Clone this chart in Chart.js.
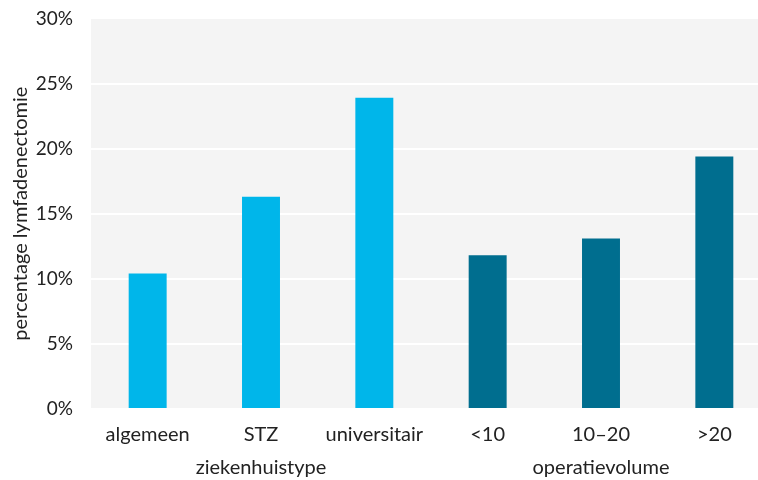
<!DOCTYPE html>
<html>
<head>
<meta charset="utf-8">
<script src="https://cdn.jsdelivr.net/npm/chart.js@4.4.1/dist/chart.umd.min.js"></script>
<style>
    html, body { margin: 0; padding: 0; background: #fff; overflow: hidden; }
    #wrap { width: 758px; height: 480px; overflow: hidden; }
    #lymfChart { display: block; margin-top: -11px; }
</style>
</head>
<body>
<div id="wrap"><canvas id="lymfChart" width="771" height="491"></canvas></div>
<script>
// Data
const categories = ['algemeen', 'STZ', 'universitair', '<10', '10–20', '>20'];
const values = [10.4, 16.3, 23.9, 11.8, 13.1, 19.4];
const groupOf = [0, 0, 0, 1, 1, 1];
const groupNames = ['ziekenhuistype', 'operatievolume'];
const groupColors = ['#00B6EA', '#006E8F'];
const yTicks = [0, 5, 10, 15, 20, 25, 30];

const fontFamily = 'Lato, "Open Sans", sans-serif';
const textColor = '#222';

// Grey plot background
const plotBackground = {
    id: 'plotBackground',
    beforeDraw(chart) {
        const { ctx, chartArea } = chart;
        ctx.save();
        ctx.fillStyle = '#F4F4F4';
        ctx.fillRect(chartArea.left, chartArea.top, chartArea.right - chartArea.left, chartArea.bottom - chartArea.top);
        ctx.restore();
    }
};

// Group labels under the category labels
const groupLabels = {
    id: 'groupLabels',
    afterDraw(chart) {
        const { ctx, scales } = chart;
        const x = scales.x;
        ctx.save();
        ctx.font = '20px ' + fontFamily;
        ctx.fillStyle = textColor;
        ctx.textAlign = 'center';
        ctx.textBaseline = 'middle';
        groupNames.forEach((name, g) => {
            const idx = groupOf.map((v, i) => v === g ? i : -1).filter(i => i >= 0);
            const mid = (x.getPixelForValue(idx[0]) + x.getPixelForValue(idx[idx.length - 1])) / 2;
            ctx.fillText(name, mid, chart.chartArea.bottom + 59);
        });
        ctx.restore();
    }
};

new Chart(document.getElementById('lymfChart'), {
    type: 'bar',
    data: {
        labels: categories,
        datasets: [{
            data: values,
            backgroundColor: groupOf.map(g => groupColors[g]),
            borderWidth: 0,
            barPercentage: 0.335,
            categoryPercentage: 1
        }]
    },
    options: {
        responsive: false,
        animation: false,
        layout: { padding: { top: 8, right: 0, bottom: 0, left: 0 } },
        plugins: {
            legend: { display: false },
            tooltip: { enabled: false }
        },
        scales: {
            x: {
                grid: { display: false, drawTicks: false },
                border: { display: false },
                ticks: {
                    color: textColor,
                    font: { family: fontFamily, size: 20 },
                    padding: 14,
                    maxRotation: 0,
                    autoSkip: false
                },
                afterFit(scale) { scale.height = 71; }
            },
            y: {
                min: 0,
                max: 30,
                afterBuildTicks(scale) {
                    scale.ticks = yTicks.map(v => ({ value: v }));
                },
                grid: { color: '#FFFFFF', lineWidth: 2, drawTicks: false },
                border: { display: false },
                ticks: {
                    color: textColor,
                    font: { family: fontFamily, size: 19 },
                    padding: 18,
                    callback: v => v + '%'
                },
                title: {
                    display: true,
                    text: 'percentage lymfadenectomie',
                    color: textColor,
                    font: { family: fontFamily, size: 20 },
                    padding: { top: 9, bottom: 0 }
                },
                afterFit(scale) { scale.width = 91; }
            }
        }
    },
    plugins: [plotBackground, groupLabels]
});
</script>
</body>
</html>
